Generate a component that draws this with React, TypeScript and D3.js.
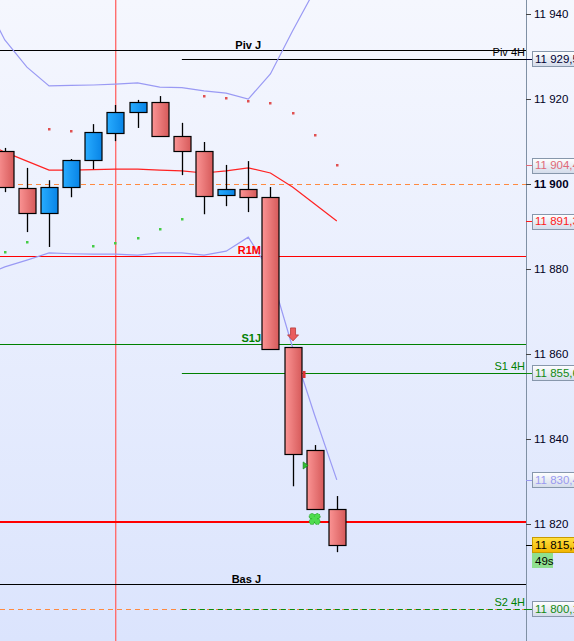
import React from 'react';
import * as d3 from 'd3';

const W = 574;
const H = 641;
const PLOT_R = 526;

// Candles (index 0..15)
const candleIdx = [0, 1, 2, 3, 4, 5, 6, 7, 8, 9, 10, 11, 12, 13, 14, 15];
const opens = [11907.8, 11899.1, 11893.2, 11899.3, 11905.6, 11912.0, 11916.9, 11919.3, 11911.3, 11907.8, 11897.4, 11898.8, 11896.9, 11861.6, 11837.4, 11823.5];
const highs = [11908.5, 11903.8, 11900.9, 11905.9, 11914.1, 11918.6, 11919.8, 11920.7, 11914.4, 11909.9, 11904.5, 11905.4, 11899.3, 11861.6, 11838.6, 11826.6];
const lows = [11898.1, 11888.7, 11885.2, 11896.9, 11903.5, 11910.1, 11913.2, 11911.3, 11902.1, 11892.9, 11894.8, 11893.4, 11861.2, 11828.9, 11823.5, 11813.4];
const closes = [11899.3, 11893.2, 11899.3, 11905.6, 11912.2, 11916.9, 11919.3, 11911.3, 11907.8, 11897.2, 11898.8, 11896.9, 11861.2, 11836.5, 11823.5, 11815.2];

// Indicator lines (index -1..15)
const lineIdx = [-1, 0, 1, 2, 3, 4, 5, 6, 7, 8, 9, 10, 11, 12, 13, 14, 15];
const bbUpper = [11944.0, 11933.9, 11927.5, 11923.1, 11923.2, 11923.3, 11923.5, 11923.8, 11922.8, 11922.7, 11921.9, 11921.4, 11920.0, 11925.9, 11936.0, 11945.6, 11952.7];
const bbLower = [11878.5, 11880.5, 11882.1, 11883.8, 11883.6, 11883.5, 11883.5, 11883.3, 11883.8, 11883.8, 11883.3, 11884.2, 11887.5, 11879.3, 11861.6, 11845.6, 11830.4];
const maMid = [11909.9, 11907.5, 11905.4, 11903.3, 11903.3, 11903.4, 11903.5, 11903.5, 11903.3, 11903.1, 11902.6, 11903.1, 11903.8, 11902.6, 11899.3, 11895.3, 11891.3];

// Parabolic SAR dots (index 0..15), 'above' = red, 'below' = green
const sarValues = [11884.0, 11886.4, 11912.9, 11912.5, 11885.4, 11886.1, 11887.3, 11889.4, 11891.8, 11920.7, 11920.2, 11919.5, 11919.1, 11916.7, 11911.5, 11904.5];
const sarAbove = [false, false, true, true, false, false, false, false, false, true, true, true, true, true, true, true];

// Axis ticks
const tickValues = [11940, 11920, 11900, 11880, 11860, 11840, 11820];
const tickLabels = ['11 940', '11 920', '11 900', '11 880', '11 860', '11 840', '11 820'];

// Daily / monthly levels (full width)
const dayNames = ['Piv J', 'R1M', 'S1J', 'Bas J'];
const dayValues = [11931.5, 11883.1, 11862.4, 11805.8];
const dayColors = ['#000000', '#ff0000', '#008000', '#000000'];

// 4H levels (start at candle 8)
const h4Names = ['Piv 4H', 'S1 4H', 'S2 4H'];
const h4Values = [11929.5, 11855.6, 11800.1];
const h4Colors = ['#000000', '#008000', '#008000'];

const roundValues = [11900, 11800];
const supportValue = 11820.4;

// Right-axis value boxes
const boxValues = [11929.5, 11904.4, 11891.3, 11855.6, 11830.4, 11815.2, 11800.1];
const boxLabels = ['11 929,5', '11 904,4', '11 891,3', '11 855,6', '11 830,4', '11 815,2', '11 800,1'];
const boxColors = ['#000033', '#e06a78', '#ff1a1a', '#138a13', '#9a9af0', '#000000', '#138a13'];

const timerLabel = '49s';

const FONT = '"Liberation Sans", Arial, sans-serif';

export default function App() {
  const y = d3.scaleLinear().domain([11792.5, 11943.3]).range([H, 0]);
  const x = d3.scaleLinear().domain([0, 15]).range([4.8, 336.8]);
  const bw = 17;

  const lineGen = (vals: number[]) =>
    d3.line<number>().x((_, i) => x(lineIdx[i])).y((d) => y(d))(vals) || '';

  const crisp = (v: number) => Math.round(v) + 0.5;

  return (
    <svg width={W} height={H} style={{ position: 'absolute', left: 0, top: 0 }} fontFamily={FONT}>
      <defs>
        <linearGradient id="bg" x1="0" y1="0" x2="0" y2="1">
          <stop offset="0" stopColor="#f5f7fe" />
          <stop offset="1" stopColor="#dbe4fd" />
        </linearGradient>
        <linearGradient id="red" x1="0" y1="0" x2="1" y2="0">
          <stop offset="0" stopColor="#fb9494" />
          <stop offset="1" stopColor="#d65a5a" />
        </linearGradient>
        <linearGradient id="blue" x1="0" y1="0" x2="1" y2="0">
          <stop offset="0" stopColor="#28acff" />
          <stop offset="1" stopColor="#0884e6" />
        </linearGradient>
        <linearGradient id="box" x1="0" y1="0" x2="0" y2="1">
          <stop offset="0" stopColor="#ffffff" />
          <stop offset="1" stopColor="#d3dbea" />
        </linearGradient>
        <linearGradient id="gold" x1="0" y1="0" x2="0" y2="1">
          <stop offset="0" stopColor="#ffe040" />
          <stop offset="1" stopColor="#f2b400" />
        </linearGradient>
        <clipPath id="plot">
          <rect x={0} y={0} width={PLOT_R} height={H} />
        </clipPath>
      </defs>
      <rect x={0} y={0} width={W} height={H} fill="url(#bg)" />

      <g clipPath="url(#plot)">
        {/* round number dashed lines */}
        {roundValues.map((v, i) => (
          <line key={'r' + i} x1={0} x2={PLOT_R} y1={crisp(y(v))} y2={crisp(y(v))} stroke="#ff8a40" strokeWidth={1} strokeDasharray="5,4" />
        ))}
        {/* vertical marker */}
        <rect x={Math.round(x(5))} y={0} width={1.4} height={H} fill="#ff6e6e" />

        {/* day levels */}
        {dayValues.map((v, i) => (
          <line key={'d' + i} x1={0} x2={PLOT_R} y1={crisp(y(v))} y2={crisp(y(v))} stroke={dayColors[i]} strokeWidth={1} />
        ))}
        {/* 4H levels */}
        {h4Values.map((v, i) => (
          <line key={'h' + i} x1={x(8)} x2={PLOT_R} y1={crisp(y(v))} y2={crisp(y(v))} stroke={i === 2 ? '#0a8a0a' : h4Colors[i]} strokeWidth={1}
            strokeDasharray={i === 2 ? '5,4' : undefined} />
        ))}
        <line x1={0} x2={PLOT_R} y1={Math.round(y(supportValue))} y2={Math.round(y(supportValue))} stroke="#ff0000" strokeWidth={2} />

        {/* Bollinger & MA */}
        <path d={lineGen(bbUpper)} fill="none" stroke="#9a9af4" strokeWidth={1.2} />
        <path d={lineGen(bbLower)} fill="none" stroke="#9a9af4" strokeWidth={1.2} />
        <path d={lineGen(maMid)} fill="none" stroke="#ff2222" strokeWidth={1.2} />

        {/* SAR */}
        {sarValues.map((v, i) => (
          <rect key={'s' + i} x={Math.round(x(candleIdx[i])) - 1} y={Math.round(y(v)) - 1} width={2.5} height={2.5}
            fill={sarAbove[i] ? '#e05050' : '#44cc44'} />
        ))}

        {/* Candles */}
        {candleIdx.map((ci, i) => {
          const cx = Math.round(x(ci)) + 0.5;
          const up = closes[i] >= opens[i];
          const top = Math.round(y(Math.max(opens[i], closes[i]))) + 0.5;
          const bot = Math.round(y(Math.min(opens[i], closes[i]))) + 0.5;
          return (
            <g key={'c' + i}>
              <line x1={cx} x2={cx} y1={y(highs[i])} y2={y(lows[i])} stroke="#000" strokeWidth={1.3} />
              <rect x={Math.round(cx - bw / 2)} y={top} width={bw} height={Math.max(bot - top, 1)}
                fill={up ? 'url(#blue)' : 'url(#red)'} stroke="#000" strokeWidth={1.2} />
            </g>
          );
        })}

        {/* trade markers */}
        {(() => {
          const ax = x(13) + 0.5;
          const ay = y(11863.1);
          return (
            <path d={`M${ax - 2.5},${ay - 13} h5 v7 h3 l-5.5,6 l-5.5,-6 h3 z`} fill="#ea5d5d" stroke="#b83a3a" strokeWidth={0.8} />
          );
        })()}
        <rect x={x(13) + 10} y={y(11855.2) - 3.5} width={3} height={7} fill="#dd3333" />
        {(() => {
          const tx = x(14) - 11.5;
          const ty = y(11833.8);
          return <path d={`M${tx},${ty - 3.5} L${tx + 5},${ty} L${tx},${ty + 3.5} z`} fill="#33bb33" stroke="#118811" strokeWidth={0.7} />;
        })()}
        {(() => {
          const gx = x(14);
          const gy = y(11821.2);
          const offs = [[-2.6, -2.6], [2.6, -2.6], [-2.6, 2.6], [2.6, 2.6]];
          return (
            <g>
              {offs.map((o, k) => (
                <circle key={k} cx={gx + o[0]} cy={gy + o[1]} r={2.9} fill="#4fdc4f" stroke="#1c8f1c" strokeWidth={0.8} strokeDasharray="1.5,1" />
              ))}
              <rect x={gx - 2.5} y={gy - 2.5} width={5} height={5} fill="#4fdc4f" />
            </g>
          );
        })()}

        {/* level labels */}
        {dayNames.map((n, i) => (
          <text key={'dl' + i} x={261} y={y(dayValues[i]) - 1.5} textAnchor="end" fontSize={11} fontWeight="bold" fill={dayColors[i]}>{n}</text>
        ))}
        {h4Names.map((n, i) => (
          <text key={'hl' + i} x={525} y={y(h4Values[i]) - 3} textAnchor="end" fontSize={11} fill={h4Colors[i]}>{n}</text>
        ))}
      </g>

      {/* right axis */}
      <line x1={PLOT_R + 0.5} x2={PLOT_R + 0.5} y1={0} y2={H} stroke="#7f90a4" strokeWidth={1} />
      {tickValues.map((v, i) => (
        <g key={'t' + i}>
          <line x1={PLOT_R} x2={PLOT_R + 5} y1={crisp(y(v))} y2={crisp(y(v))} stroke="#444" strokeWidth={1} />
          <text x={534} y={y(v)} dy="0.36em" fontSize={11.5} fontWeight={v === 11900 ? 'bold' : 'normal'} fill="#000022">{tickLabels[i]}</text>
        </g>
      ))}
      {boxValues.map((v, i) => {
        const cy = y(v);
        const isPrice = i === 5;
        return (
          <g key={'b' + i}>
            <line x1={PLOT_R} x2={PLOT_R + 6} y1={crisp(cy)} y2={crisp(cy)} stroke={boxColors[i]} strokeWidth={1} />
            <rect x={532.5} y={Math.round(cy - 7.5) + 0.5} width={50} height={15} fill={isPrice ? 'url(#gold)' : 'url(#box)'} stroke={isPrice ? '#c89a00' : '#8797ab'} strokeWidth={1} />
            <text x={535} y={cy} dy="0.36em" fontSize={11.5} fill={boxColors[i]}>{boxLabels[i]}</text>
          </g>
        );
      })}
      <rect x={532} y={Math.round(y(11815.2)) + 8} width={21} height={15} fill="#8fe08f" />
      <text x={535} y={Math.round(y(11815.2)) + 15.5} dy="0.36em" fontSize={11.5} fill="#000">{timerLabel}</text>
    </svg>
  );
}
